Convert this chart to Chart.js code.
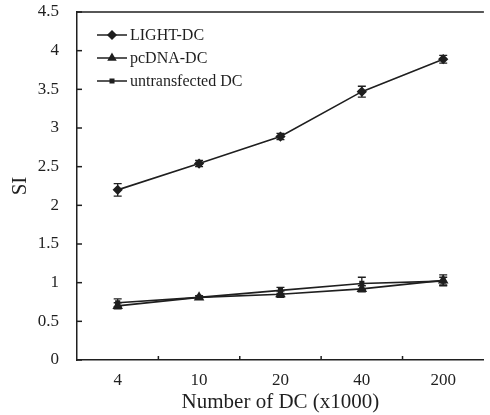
<!DOCTYPE html>
<html><head><meta charset="utf-8">
<script src="https://cdn.jsdelivr.net/npm/chart.js@4"></script>
<style>html,body{margin:0;padding:0;background:#fff}#wrap{width:490px;height:415px}</style>
</head><body><div id="wrap"><canvas id="c" width="490" height="415"></canvas></div>
<script>
const categories = ["4", "10", "20", "40", "200"];
const seriesNames = ["LIGHT-DC", "pcDNA-DC", "untransfected DC"];
const lightDC = [2.20, 2.54, 2.89, 3.47, 3.89];
const lightErr = [0.08, 0.04, 0.04, 0.07, 0.05];
const pcDNA = [0.70, 0.81, 0.85, 0.92, 1.03];
const pcErr = [0.04, 0.02, 0.04, 0.04, 0.07];
const untrans = [0.74, 0.81, 0.90, 0.99, 1.02];
const untransErr = [0.05, 0.02, 0.04, 0.08, 0.05];
const yTicks = [0, 0.5, 1, 1.5, 2, 2.5, 3, 3.5, 4, 4.5];
const yTickLabels = ["0", "0.5", "1", "1.5", "2", "2.5", "3", "3.5", "4", "4.5"];

const FONT = "'Liberation Serif', 'Times New Roman', serif";
const INK = '#1f1f1f';
const styles = ['rectRot', 'triangle', 'rect'];
const errs = [lightErr, pcErr, untransErr];

const extras = {
  id: 'extras',
  afterDatasetsDraw(chart) {
    const ctx = chart.ctx, ca = chart.chartArea;
    const xs = chart.scales.x, ys = chart.scales.y;
    ctx.save();
    ctx.strokeStyle = INK; ctx.lineWidth = 1.3;
    chart.data.datasets.forEach((ds, di) => {
      ds.data.forEach((v, i) => {
        const e = errs[di][i];
        const x = xs.getPixelForValue(i);
        const y1 = ys.getPixelForValue(v + e), y2 = ys.getPixelForValue(v - e);
        ctx.beginPath();
        ctx.moveTo(x, y1); ctx.lineTo(x, y2);
        ctx.moveTo(x - 4, y1); ctx.lineTo(x + 4, y1);
        ctx.moveTo(x - 4, y2); ctx.lineTo(x + 4, y2);
        ctx.stroke();
      });
    });
    ctx.lineWidth = 1.5;
    ctx.beginPath(); ctx.moveTo(ca.left, ca.top); ctx.lineTo(ca.right, ca.top); ctx.stroke();
    // x tick marks between categories, pointing inward
    for (let i = 0; i < categories.length - 1; i++) {
      const x = (xs.getPixelForValue(i) + xs.getPixelForValue(i + 1)) / 2;
      ctx.beginPath(); ctx.moveTo(x, ca.bottom); ctx.lineTo(x, ca.bottom - 4); ctx.stroke();
    }
    // y tick marks pointing inward
    yTicks.forEach(v => {
      const y = ys.getPixelForValue(v);
      ctx.beginPath(); ctx.moveTo(ca.left, y); ctx.lineTo(ca.left + 5, y); ctx.stroke();
    });
    ctx.font = '16px ' + FONT;
    ctx.fillStyle = INK; ctx.textBaseline = 'middle';
    const lx = ca.left + 20, ly = ca.top + 23, step = 23;
    seriesNames.forEach((n, i) => {
      const y = ly + i * step;
      ctx.lineWidth = 1.5;
      ctx.beginPath(); ctx.moveTo(lx, y); ctx.lineTo(lx + 30, y); ctx.stroke();
      Chart.helpers.drawPoint(ctx, {pointStyle: styles[i], radius: i === 2 ? 2.5 : 4, borderWidth: 1}, lx + 15, y);
      ctx.fillText(n, lx + 33, y + 1);
    });
    ctx.restore();
  }
};

const mk = (label, data, ps, r) => ({
  label, data, borderColor: INK, backgroundColor: INK, borderWidth: 1.6,
  pointStyle: ps, pointRadius: r, pointBackgroundColor: INK, pointBorderColor: INK,
  tension: 0, fill: false
});

new Chart(document.getElementById('c'), {
  type: 'line',
  data: {
    labels: categories,
    datasets: [mk(seriesNames[0], lightDC, 'rectRot', 4), mk(seriesNames[1], pcDNA, 'triangle', 4.5), mk(seriesNames[2], untrans, 'rect', 2.5)]
  },
  options: {
    responsive: false, animation: false, devicePixelRatio: 1,
    layout: {padding: {top: 12, right: 0, left: 0, bottom: 0}},
    plugins: {legend: {display: false}, tooltip: {enabled: false}},
    scales: {
      x: {
        offset: true,
        grid: {display: false},
        border: {display: true, color: INK, width: 1.5},
        ticks: {color: INK, font: {family: FONT, size: 17}, padding: 2},
        title: {display: true, text: 'Number of DC (x1000)', color: INK, font: {family: FONT, size: 21}, padding: {top: 0, bottom: 0}},
        afterFit(s) { s.height = 55; s.paddingLeft = 0; s.paddingRight = 0; }
      },
      y: {
        min: 0, max: 4.5,
        afterBuildTicks(s) { s.ticks = yTicks.map(v => ({value: v})); },
        grid: {display: false},
        border: {display: true, color: INK, width: 1.5},
        ticks: {color: INK, font: {family: FONT, size: 17}, padding: 10, callback: (v, i) => yTickLabels[i]},
        title: {display: true, text: 'SI', color: INK, font: {family: FONT, size: 21}, padding: {top: 8, bottom: 0}},
        afterFit(s) { s.width = 77; s.paddingTop = 0; s.paddingBottom = 0; }
      }
    }
  },
  plugins: [extras]
});
</script></body></html>
